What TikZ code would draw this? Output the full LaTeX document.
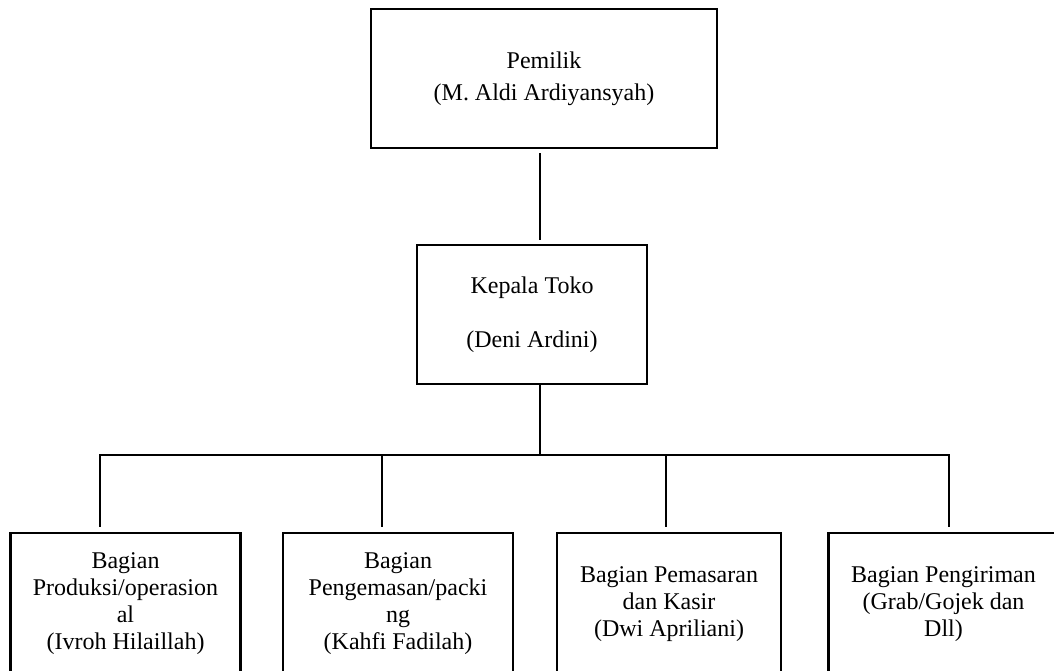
\documentclass[tikz,border=0pt]{standalone}
\usepackage{fontspec}
\setmainfont{Liberation Serif}
\usetikzlibrary{positioning}

\begin{document}
\begin{tikzpicture}[x=0.5pt,y=-0.5pt,align=center,font=\fontsize{12pt}{13.5pt}\selectfont]
            \tikzstyle{box}=[draw,line width=1.4pt,inner sep=0pt,minimum height=69.5pt]
            \tikzstyle{bagian}=[box,minimum width=115pt,minimum height=71pt]
            \tikzstyle{link}=[line width=1.1pt]
            \useasboundingbox (0,0) rectangle (1054,670);
            \clip (0,0) rectangle (1054,670);

            \node[box,minimum width=173pt] (pemilik) at (544,78.5) {Pemilik\\[2.5pt](M. Aldi Ardiyansyah)};
            \node[box,minimum width=115pt] (kepala) at (532,314.5) {Kepala Toko\\[13.5pt](Deni Ardini)};

            \node[bagian] (prod) at (125.5,604) {Bagian\\Produksi/operasion\\al\\(Ivroh Hilaillah)};
            \node[bagian] (pack) at (398,604) {Bagian\\Pengemasan/packi\\ng\\(Kahfi Fadilah)};
            \node[bagian,minimum width=112pt] (kasir) at (669,604) {Bagian Pemasaran\\dan Kasir\\(Dwi Apriliani)};
            \node[bagian] (kirim) at (943.5,604) {Bagian Pengiriman\\(Grab/Gojek dan\\Dll)};

            \coordinate (trunk) at (540,455);
            \coordinate (j1) at (100,455);
            \coordinate (j2) at (382,455);
            \coordinate (j3) at (666,455);
            \coordinate (j4) at (949,455);

            \draw[link,shorten <=2pt,shorten >=2pt] (pemilik.south -| trunk) -- (kepala.north -| trunk);
            \draw[link] (kepala.south -| trunk) -- (trunk);
            \draw[link,shorten <=2.5pt,shorten >=2.5pt] (prod.north -| j1) -- (j1) -- (j4) -- (kirim.north -| j4);
            \draw[link,shorten >=2.5pt] (j2) -- (pack.north -| j2);
            \draw[link,shorten >=2.5pt] (j3) -- (kasir.north -| j3);
        \end{tikzpicture}
\end{document}
